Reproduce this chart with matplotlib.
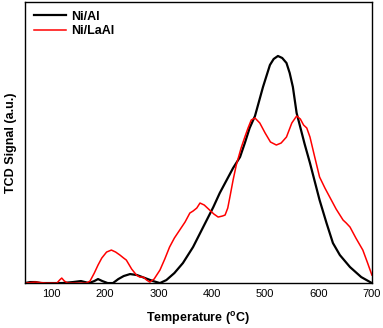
import matplotlib.pyplot as plt
import matplotlib as mpl

# readings (temperature in C, signal in arbitrary units)
t_al = [50, 60, 70, 80, 100, 120, 140, 155, 170, 180, 187, 195, 205, 215, 225, 235,
        247, 260, 275, 290, 303, 315, 330, 346, 365, 384, 403, 415, 428, 440, 453,
        462, 471, 481, 496, 509, 516, 524, 532, 540, 546, 552, 559, 574, 584, 602,
        615, 627, 640, 659, 680, 700]
s_al = [0, 1, 1, 0, 0, 0, 1, 2, 0, 2, 4, 2, 0, 0, 4, 7,
        9, 8, 5, 2, 0, 3, 10, 20, 36, 56, 76, 90, 103, 115, 126,
        140, 155, 167, 196, 218, 224, 227, 225, 220, 210, 196, 170, 139, 120, 83,
        60, 40, 28, 16, 6, 0]

t_laal = [50, 70, 90, 110, 115, 119, 124, 130, 150, 165, 172, 180, 187, 194, 203,
          212, 220, 228, 235, 240, 250, 259, 265, 272, 278, 284, 292, 303, 312, 321,
          330, 340, 350, 359, 365, 372, 378, 386, 396, 404, 412, 420, 425, 430, 434,
          440, 446, 455, 462, 468, 474, 481, 490, 500, 510, 521, 530, 540, 550, 559,
          566, 572, 578, 584, 592, 602, 612, 621, 633, 646, 652, 659, 670, 683, 692, 700]
s_laal = [0, 1, 0, 0, 3, 5, 2, 0, 0, 0, 2, 10, 18, 25, 31,
          33, 31, 28, 25, 23, 14, 8, 6, 6, 3, 1, 4, 13, 24, 36,
          45, 53, 61, 70, 72, 75, 80, 78, 73, 69, 66, 67, 68, 75, 86,
          103, 118, 135, 146, 155, 163, 165, 160, 150, 141, 138, 140, 146, 160, 167,
          164, 158, 155, 146, 128, 106, 95, 86, 74, 63, 60, 56, 45, 33, 20, 8]

x_ticks = [100, 200, 300, 400, 500, 600, 700]

mpl.rcParams['font.family'] = 'Liberation Sans'
mpl.rcParams['axes.linewidth'] = 1

fig = plt.figure(figsize=(3.83, 3.28), dpi=100)
ax = fig.add_axes([0.065, 0.137, 0.906, 0.857])

ax.plot(t_al, s_al, color='black', lw=1.6, label='Ni/Al')
ax.plot(t_laal, s_laal, color='red', lw=1.1, label='Ni/LaAl')

ax.set_xlim(50, 700)
ax.set_ylim(0, 281)
ax.set_xticks(x_ticks)
ax.set_yticks([])
ax.tick_params(axis='x', length=0, labelsize=8, pad=4)

ax.set_xlabel('Temperature ($\\mathregular{^{o}}$C)', fontsize=9, fontweight='bold', labelpad=8)
ax.set_ylabel('TCD Signal (a.u.)', fontsize=9, fontweight='bold', labelpad=6)

ax.legend(loc='upper left', frameon=False, prop={'weight': 'bold', 'size': 9},
          handlelength=2.6, handletextpad=0.4, borderaxespad=0.3, labelspacing=0.2)

fig.savefig('out.png', dpi=100)
